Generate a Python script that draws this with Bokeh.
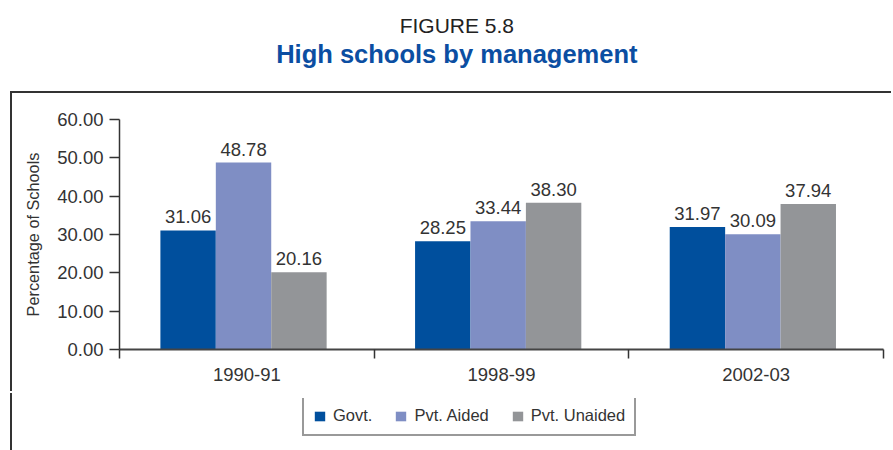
from bokeh.plotting import figure
from bokeh.layouts import column
from bokeh.models import (ColumnDataSource, Range1d, FixedTicker,
                          NumeralTickFormatter, LabelSet, Label, Legend, LegendItem)
from bokeh.transform import dodge
from bokeh.core.properties import value
from bokeh.embed import file_html
from bokeh.resources import INLINE

# ---- data ----
categories = ["1990-91", "1998-99", "2002-03"]
govt = [31.06, 28.25, 31.97]
pvt_aided = [48.78, 33.44, 30.09]
pvt_unaided = [20.16, 38.30, 37.94]
series_names = ["Govt.", "Pvt. Aided", "Pvt. Unaided"]
y_ticks = [0, 10, 20, 30, 40, 50, 60]
figure_label = "FIGURE 5.8"
title_text = "High schools by management"
y_label = "Percentage of Schools"

# ---- styles ----
FONT = "'Liberation Sans', Arial, sans-serif"
colors = ["#004f9d", "#7f8ec4", "#939598"]
TXT = "#333333"
LINE = "#333333"

# ---------------- heading figure ----------------
TW, TH = 893, 93
HL, HT = 100, 12
head = figure(width=TW, height=TH, title=None,
              x_range=Range1d(HL, TW), y_range=Range1d(0, TH - HT),
              output_backend="svg", toolbar_location=None,
              x_axis_location=None, y_axis_location=None,
              min_border_left=HL, min_border_right=0, min_border_top=HT, min_border_bottom=0)
head.outline_line_color = None
head.grid.visible = False
head.add_layout(Label(x=457, y=68, text=figure_label, text_align="center", text_baseline="alphabetic",
                      text_font=FONT, text_font_size="21px", text_color="#222222"))
head.add_layout(Label(x=457, y=39.5, text=title_text, text_align="center", text_baseline="alphabetic",
                      text_font=FONT, text_font_size="25.5px", text_font_style="bold",
                      text_color="#0b4ea2"))

# ---------------- chart figure ----------------
n = len(categories)
centres = [i + 0.5 for i in range(n)]      # category slot centres on a 0..n axis
bounds = list(range(n + 1))                 # category slot boundaries

W, H = 881, 300
p = figure(width=W, height=H,
           x_range=Range1d(0, n),
           y_range=Range1d(y_ticks[0], y_ticks[-1]),
           output_backend="svg", toolbar_location=None,
           min_border_left=107, min_border_right=10, min_border_top=26, min_border_bottom=44)
p.margin = (0, 0, 0, 12)
p.styles = {"box-shadow": "-2px -2px 0 0 #333333"}
p.outline_line_color = None
p.grid.visible = False
p.background_fill_color = "white"
p.border_fill_color = "white"

src = ColumnDataSource(dict(
    xc=centres, govt=govt, aided=pvt_aided, unaided=pvt_unaided,
    govt_t=[f"{v:.2f}" for v in govt],
    aided_t=[f"{v:.2f}" for v in pvt_aided],
    unaided_t=[f"{v:.2f}" for v in pvt_unaided],
))

bw = 0.2176
shift = -0.013
offs = [shift - bw, shift, shift + bw]
series_keys = ["govt", "aided", "unaided"]
for key, off, c in zip(series_keys, offs, colors):
    p.vbar(x=dodge("xc", off), top=key, width=bw, source=src, fill_color=c, line_color=None)
    p.add_layout(LabelSet(x=dodge("xc", off), y=key, text=key + "_t", source=src,
                          text_align="center", text_baseline="alphabetic", y_offset=7,
                          text_font=value(FONT), text_font_size="18.5px", text_color=TXT))

# y axis
ya = p.yaxis[0]
ya.ticker = FixedTicker(ticks=y_ticks)
ya.formatter = NumeralTickFormatter(format="0.00")
ya.major_tick_out = 10
ya.major_tick_in = 0
ya.minor_tick_line_color = None
ya.major_tick_line_color = LINE
ya.major_tick_line_width = 1.5
ya.axis_line_color = LINE
ya.axis_line_width = 1.5
ya.major_label_standoff = 6
ya.major_label_text_font = FONT
ya.major_label_text_font_size = "18.5px"
ya.major_label_text_color = TXT
ya.axis_label = y_label
ya.axis_label_text_font = FONT
ya.axis_label_text_font_size = "16.3px"
ya.axis_label_text_font_style = "normal"
ya.axis_label_text_color = TXT
ya.axis_label_standoff = 12

# x axis: labels at category centres, ticks at category boundaries
xa = p.xaxis[0]
xa.ticker = FixedTicker(ticks=centres, minor_ticks=bounds)
xa.major_label_overrides = {c: lab for c, lab in zip(centres, categories)}
xa.major_tick_out = 0
xa.major_tick_in = 0
xa.major_tick_line_color = None
xa.minor_tick_out = 9
xa.minor_tick_in = 0
xa.minor_tick_line_color = LINE
xa.minor_tick_line_width = 1.5
xa.axis_line_color = "#444444"
xa.axis_line_width = 2
xa.major_label_standoff = 9
xa.major_label_text_font = FONT
xa.major_label_text_font_size = "18.5px"
xa.major_label_text_color = TXT

# ---------------- legend figure ----------------
LW, LH = 881, 57
LL, LT = 100, 5
leg = figure(width=LW, height=LH, title=None,
             x_range=Range1d(0, n), y_range=Range1d(100, 101),   # series bars fall outside: only keys show
             output_backend="svg", toolbar_location=None,
             x_axis_location=None, y_axis_location=None,
             min_border_left=LL, min_border_right=0, min_border_top=LT, min_border_bottom=0)
leg.margin = (0, 0, 0, 12)
leg.styles = {"box-shadow": "-2px 0 0 0 #333333"}
leg.outline_line_color = None
leg.grid.visible = False
leg.border_fill_color = "white"
keys = [leg.vbar(x=dodge("xc", off), top=key, width=bw, source=src, fill_color=c, line_color=None)
        for key, off, c in zip(series_keys, offs, colors)]
legend = Legend(items=[LegendItem(label=nm, renderers=[r]) for nm, r in zip(series_names, keys)],
                orientation="horizontal", location=(183, 14))
legend.border_line_color = LINE
legend.border_line_width = 2
legend.background_fill_color = "white"
legend.background_fill_alpha = 1
legend.label_text_font = FONT
legend.label_text_font_size = "16.5px"
legend.label_text_color = TXT
legend.glyph_width = 13
legend.glyph_height = 12
legend.label_standoff = 7
legend.spacing = 22
legend.padding = 9
legend.margin = 0
legend.label_height = 12
leg.add_layout(legend)

layout = column(head, p, leg, spacing=0)
open("out.html", "w").write(file_html(layout, INLINE))
